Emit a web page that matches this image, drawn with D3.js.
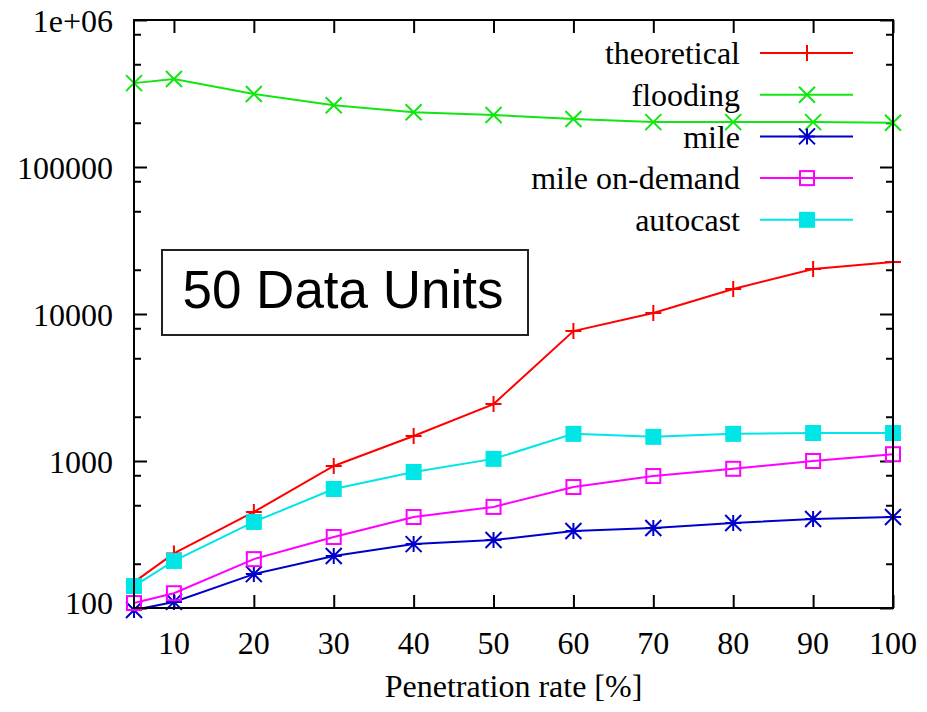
<!DOCTYPE html>
<html>
<head>
<meta charset="utf-8">
<script src="https://cdn.jsdelivr.net/npm/d3@7"></script>
<style>
  body { margin: 0; background: #fff; }
  svg { display: block; }
</style>
</head>
<body>
<svg id="chart" width="927" height="712"></svg>
<script>
// data
var rates = [5, 10, 20, 30, 40, 50, 60, 70, 80, 90, 100]
var theoretical = [150, 235, 450, 925, 1480, 2440, 7650, 10150, 14800, 20200, 22600]
var flooding = [372000, 397000, 314000, 263000, 236000, 226000, 212000, 202000, 202000, 202000, 200000]
var mile = [97, 110, 170, 226, 272, 290, 334, 350, 379, 403, 416]
var mileOnDemand = [108, 126, 215, 304, 416, 487, 665, 790, 885, 1000, 1112]
var autocast = [141, 209, 385, 645, 842, 1034, 1530, 1460, 1530, 1550, 1550]

var xTicks = [10, 20, 30, 40, 50, 60, 70, 80, 90, 100]
var yTicks = [100, 1000, 10000, 100000, 1000000]
var yTickLabels = ['100', '1000', '10000', '100000', '1e+06']

var series = [
  { name: 'theoretical', values: theoretical, color: '#ff0000', marker: 'plus' },
  { name: 'flooding', values: flooding, color: '#11e611', marker: 'cross' },
  { name: 'mile', values: mile, color: '#0000cc', marker: 'star' },
  { name: 'mile on-demand', values: mileOnDemand, color: '#ff00ff', marker: 'box' },
  { name: 'autocast', values: autocast, color: '#00e5e5', marker: 'fbox' }
]

var margin = { top: 20, right: 34, bottom: 104, left: 134 }
var width = 927 - margin.left - margin.right
var height = 712 - margin.top - margin.bottom

var svg = d3.select('#chart')
var g = svg.append('g')
  .attr('transform', 'translate(' + margin.left + ',' + margin.top + ')')

var x = d3.scaleLinear().domain([5, 100]).range([0, width])
var y = d3.scaleLog().domain([100, 1e6]).range([height, 0])

var serif = "'Liberation Serif', 'DejaVu Serif', serif"
var fontSize = '32px'

// minor ticks: gnuplot-ish, at 2,5,8 of each decade
var minor = []
for (var d = 100; d < 1e6; d *= 10) {
  minor.push(d * 2, d * 5, d * 8)
}

// left + right axes
g.append('g')
  .call(d3.axisLeft(y).tickValues(yTicks).tickFormat('').tickSize(-13).tickSizeOuter(0))
  .call(a => a.select('.domain').remove())
g.append('g')
  .call(d3.axisLeft(y).tickValues(minor).tickFormat('').tickSize(-7).tickSizeOuter(0))
  .call(a => a.select('.domain').remove())
g.append('g')
  .attr('transform', 'translate(' + width + ',0)')
  .call(d3.axisRight(y).tickValues(yTicks).tickFormat('').tickSize(-13).tickSizeOuter(0))
  .call(a => a.select('.domain').remove())
g.append('g')
  .attr('transform', 'translate(' + width + ',0)')
  .call(d3.axisRight(y).tickValues(minor).tickFormat('').tickSize(-7).tickSizeOuter(0))
  .call(a => a.select('.domain').remove())

// bottom + top axes
g.append('g')
  .attr('transform', 'translate(0,' + height + ')')
  .call(d3.axisBottom(x).tickValues(xTicks).tickFormat('').tickSize(-13).tickSizeOuter(0))
  .call(a => a.select('.domain').remove())
g.append('g')
  .call(d3.axisTop(x).tickValues(xTicks).tickFormat('').tickSize(-13).tickSizeOuter(0))
  .call(a => a.select('.domain').remove())

g.selectAll('.tick line').attr('stroke', '#000').attr('stroke-width', 2)

// tick labels (bottom one sits a bit higher, like the original)
g.selectAll('text.ylab')
  .data(yTicks)
  .enter().append('text')
  .attr('class', 'ylab')
  .attr('x', -21)
  .attr('y', (d, i) => y(d) + (i === 0 ? -5 : 1))
  .attr('dy', '0.35em')
  .attr('text-anchor', 'end')
  .style('font-family', serif)
  .style('font-size', fontSize)
  .text((d, i) => yTickLabels[i])

g.selectAll('text.xlab')
  .data(xTicks)
  .enter().append('text')
  .attr('class', 'xlab')
  .attr('x', d => x(d))
  .attr('y', height + 35)
  .attr('dy', '0.35em')
  .attr('text-anchor', 'middle')
  .style('font-family', serif)
  .style('font-size', fontSize)
  .text(d => d)

g.append('text')
  .attr('x', width / 2)
  .attr('y', height + 78)
  .attr('dy', '0.35em')
  .attr('text-anchor', 'middle')
  .style('font-family', serif)
  .style('font-size', fontSize)
  .text('Penetration rate [%]')

// markers
function drawMarker(sel, type, color) {
  var s = 8
  if (type === 'plus') {
    sel.append('path').attr('d', 'M' + -s + ',0H' + s + 'M0,' + -s + 'V' + s)
      .attr('stroke', color).attr('stroke-width', 2).attr('fill', 'none')
  } else if (type === 'cross') {
    sel.append('path').attr('d', 'M' + -s + ',' + -s + 'L' + s + ',' + s + 'M' + -s + ',' + s + 'L' + s + ',' + -s)
      .attr('stroke', color).attr('stroke-width', 2).attr('fill', 'none')
  } else if (type === 'star') {
    sel.append('path').attr('d', 'M' + -s + ',0H' + s + 'M0,' + -s + 'V' + s +
      'M' + -s + ',' + -s + 'L' + s + ',' + s + 'M' + -s + ',' + s + 'L' + s + ',' + -s)
      .attr('stroke', color).attr('stroke-width', 2).attr('fill', 'none')
  } else if (type === 'box') {
    var b = s - 1
    sel.append('rect').attr('x', -b).attr('y', -b).attr('width', 2 * b).attr('height', 2 * b)
      .attr('stroke', color).attr('stroke-width', 2).attr('fill', 'none')
  } else if (type === 'fbox') {
    sel.append('rect').attr('x', -s).attr('y', -s).attr('width', 2 * s).attr('height', 2 * s)
      .attr('fill', color)
  }
}

var line = d3.line()
  .x((d, i) => x(rates[i]))
  .y(d => y(d))

series.forEach(sr => {
  g.append('path')
    .datum(sr.values)
    .attr('d', line)
    .attr('fill', 'none')
    .attr('stroke', sr.color)
    .attr('stroke-width', 2)
  sr.values.forEach((v, i) => {
    var m = g.append('g').attr('transform', 'translate(' + x(rates[i]) + ',' + y(v) + ')')
    drawMarker(m, sr.marker, sr.color)
  })
})

// frame
g.append('rect')
  .attr('width', width).attr('height', height)
  .attr('fill', 'none').attr('stroke', '#000').attr('stroke-width', 2)

// legend
var legend = g.append('g')
series.forEach((sr, i) => {
  var ly = 33 + i * 41.7
  legend.append('text')
    .attr('x', 606)
    .attr('y', ly)
    .attr('dy', '0.35em')
    .attr('text-anchor', 'end')
    .style('font-family', serif)
    .style('font-size', fontSize)
    .text(sr.name)
  legend.append('line')
    .attr('x1', 626).attr('x2', 719)
    .attr('y1', ly).attr('y2', ly)
    .attr('stroke', sr.color).attr('stroke-width', 2)
  var m = legend.append('g').attr('transform', 'translate(673,' + ly + ')')
  drawMarker(m, sr.marker, sr.color)
})

// annotation box
svg.append('rect')
  .attr('x', 162).attr('y', 250).attr('width', 366).attr('height', 85)
  .attr('fill', '#fff').attr('stroke', '#222').attr('stroke-width', 2)
svg.append('text')
  .attr('x', 343).attr('y', 308)
  .attr('text-anchor', 'middle')
  .style('font-family', "'Liberation Sans', Arial, sans-serif")
  .style('font-size', '53px')
  .text('50 Data Units')
</script>
</body>
</html>
